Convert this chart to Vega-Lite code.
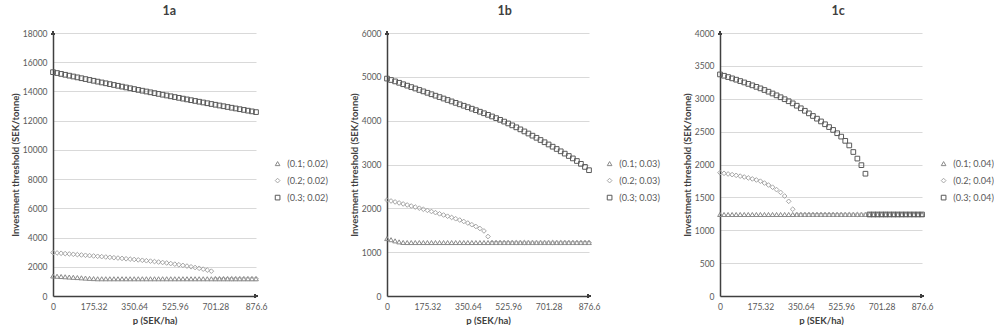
{
"$schema":"https://vega.github.io/schema/vega-lite/v6.json",
"background":"white",
"padding":{"left":10,"top":4,"right":0,"bottom":0},
"spacing":131,
"bounds":"flush",
"config":{
 "font":"Lato",
 "view":{"stroke":null},
 "axis":{"labelFont":"Lato","labelFontSize":8.5,"labelColor":"#595959","titleFont":"Lato","titleFontSize":9.5,"titleColor":"#404040","titleFontWeight":"bold","domainColor":"#404040","domainWidth":1.5,"ticks":false,"gridColor":"#d9d9d9","gridWidth":1.2,"labelOverlap":false,"tickCount":30},
 "axisX":{"grid":false,"labelPadding":6,"labelFlush":false,"titlePadding":5,"format":".2~f"},
 "axisY":{"labelPadding":6,"titlePadding":2,"format":"d"},
 "legend":{"orient":"none","labelFont":"Lato","labelFontSize":9.2,"labelColor":"#595959","symbolStrokeWidth":1,"symbolSize":22,"rowPadding":7,"labelOffset":5,"title":null},
 "title":{"font":"Lato","fontSize":12.5,"fontWeight":"bold","color":"#404040","offset":12,"anchor":"middle","frame":"bounds"},
 "point":{"filled":false,"opacity":1,"strokeWidth":1,"size":22}
},
"resolve":{"scale":{"shape":"independent","color":"independent","y":"independent","x":"independent"},"legend":{"shape":"independent","color":"independent"}},
"datasets":{
"a":[
{"p":0,"s":"(0.1; 0.02)","v":1370},{"p":17.532,"s":"(0.1; 0.02)","v":1352},{"p":35.064,"s":"(0.1; 0.02)","v":1334},{"p":52.596,"s":"(0.1; 0.02)","v":1316},{"p":70.128,"s":"(0.1; 0.02)","v":1298},{"p":87.66,"s":"(0.1; 0.02)","v":1280},{"p":105.192,"s":"(0.1; 0.02)","v":1262},{"p":122.724,"s":"(0.1; 0.02)","v":1244},{"p":140.256,"s":"(0.1; 0.02)","v":1226},{"p":157.788,"s":"(0.1; 0.02)","v":1208},{"p":175.32,"s":"(0.1; 0.02)","v":1192},{"p":192.852,"s":"(0.1; 0.02)","v":1180},{"p":210.384,"s":"(0.1; 0.02)","v":1180},{"p":227.916,"s":"(0.1; 0.02)","v":1180},{"p":245.448,"s":"(0.1; 0.02)","v":1180},{"p":262.98,"s":"(0.1; 0.02)","v":1180},{"p":280.512,"s":"(0.1; 0.02)","v":1180},{"p":298.044,"s":"(0.1; 0.02)","v":1180},{"p":315.576,"s":"(0.1; 0.02)","v":1180},{"p":333.108,"s":"(0.1; 0.02)","v":1180},{"p":350.64,"s":"(0.1; 0.02)","v":1180},{"p":368.172,"s":"(0.1; 0.02)","v":1180},{"p":385.704,"s":"(0.1; 0.02)","v":1180},{"p":403.236,"s":"(0.1; 0.02)","v":1180},{"p":420.768,"s":"(0.1; 0.02)","v":1180},{"p":438.3,"s":"(0.1; 0.02)","v":1180},{"p":455.832,"s":"(0.1; 0.02)","v":1180},{"p":473.364,"s":"(0.1; 0.02)","v":1180},{"p":490.896,"s":"(0.1; 0.02)","v":1180},{"p":508.428,"s":"(0.1; 0.02)","v":1180},{"p":525.96,"s":"(0.1; 0.02)","v":1180},{"p":543.492,"s":"(0.1; 0.02)","v":1180},{"p":561.024,"s":"(0.1; 0.02)","v":1180},{"p":578.556,"s":"(0.1; 0.02)","v":1180},{"p":596.088,"s":"(0.1; 0.02)","v":1180},{"p":613.62,"s":"(0.1; 0.02)","v":1180},{"p":631.152,"s":"(0.1; 0.02)","v":1180},{"p":648.684,"s":"(0.1; 0.02)","v":1180},{"p":666.216,"s":"(0.1; 0.02)","v":1180},{"p":683.748,"s":"(0.1; 0.02)","v":1180},{"p":701.28,"s":"(0.1; 0.02)","v":1180},{"p":718.812,"s":"(0.1; 0.02)","v":1180},{"p":736.344,"s":"(0.1; 0.02)","v":1180},{"p":753.876,"s":"(0.1; 0.02)","v":1180},{"p":771.408,"s":"(0.1; 0.02)","v":1180},{"p":788.94,"s":"(0.1; 0.02)","v":1180},{"p":806.472,"s":"(0.1; 0.02)","v":1180},{"p":824.004,"s":"(0.1; 0.02)","v":1180},{"p":841.536,"s":"(0.1; 0.02)","v":1180},{"p":859.068,"s":"(0.1; 0.02)","v":1180},{"p":876.6,"s":"(0.1; 0.02)","v":1180},
{"p":0,"s":"(0.2; 0.02)","v":2970},{"p":17.532,"s":"(0.2; 0.02)","v":2947},{"p":35.064,"s":"(0.2; 0.02)","v":2924},{"p":52.596,"s":"(0.2; 0.02)","v":2901},{"p":70.128,"s":"(0.2; 0.02)","v":2878},{"p":87.66,"s":"(0.2; 0.02)","v":2855},{"p":105.192,"s":"(0.2; 0.02)","v":2832},{"p":122.724,"s":"(0.2; 0.02)","v":2809},{"p":140.256,"s":"(0.2; 0.02)","v":2786},{"p":157.788,"s":"(0.2; 0.02)","v":2763},{"p":175.32,"s":"(0.2; 0.02)","v":2740},{"p":192.852,"s":"(0.2; 0.02)","v":2717},{"p":210.384,"s":"(0.2; 0.02)","v":2694},{"p":227.916,"s":"(0.2; 0.02)","v":2670},{"p":245.448,"s":"(0.2; 0.02)","v":2646},{"p":262.98,"s":"(0.2; 0.02)","v":2622},{"p":280.512,"s":"(0.2; 0.02)","v":2598},{"p":298.044,"s":"(0.2; 0.02)","v":2573},{"p":315.576,"s":"(0.2; 0.02)","v":2548},{"p":333.108,"s":"(0.2; 0.02)","v":2524},{"p":350.64,"s":"(0.2; 0.02)","v":2500},{"p":368.172,"s":"(0.2; 0.02)","v":2472},{"p":385.704,"s":"(0.2; 0.02)","v":2444},{"p":403.236,"s":"(0.2; 0.02)","v":2415},{"p":420.768,"s":"(0.2; 0.02)","v":2386},{"p":438.3,"s":"(0.2; 0.02)","v":2356},{"p":455.832,"s":"(0.2; 0.02)","v":2325},{"p":473.364,"s":"(0.2; 0.02)","v":2293},{"p":490.896,"s":"(0.2; 0.02)","v":2260},{"p":508.428,"s":"(0.2; 0.02)","v":2221},{"p":525.96,"s":"(0.2; 0.02)","v":2180},{"p":543.492,"s":"(0.2; 0.02)","v":2138},{"p":561.024,"s":"(0.2; 0.02)","v":2094},{"p":578.556,"s":"(0.2; 0.02)","v":2048},{"p":596.088,"s":"(0.2; 0.02)","v":2000},{"p":613.62,"s":"(0.2; 0.02)","v":1950},{"p":631.152,"s":"(0.2; 0.02)","v":1896},{"p":648.684,"s":"(0.2; 0.02)","v":1838},{"p":666.216,"s":"(0.2; 0.02)","v":1774},{"p":683.748,"s":"(0.2; 0.02)","v":1700},{"p":701.28,"s":"(0.2; 0.02)","v":1180},{"p":718.812,"s":"(0.2; 0.02)","v":1180},{"p":736.344,"s":"(0.2; 0.02)","v":1180},{"p":753.876,"s":"(0.2; 0.02)","v":1180},{"p":771.408,"s":"(0.2; 0.02)","v":1180},{"p":788.94,"s":"(0.2; 0.02)","v":1180},{"p":806.472,"s":"(0.2; 0.02)","v":1180},{"p":824.004,"s":"(0.2; 0.02)","v":1180},{"p":841.536,"s":"(0.2; 0.02)","v":1180},{"p":859.068,"s":"(0.2; 0.02)","v":1180},{"p":876.6,"s":"(0.2; 0.02)","v":1180},
{"p":0,"s":"(0.3; 0.02)","v":15320},{"p":17.532,"s":"(0.3; 0.02)","v":15260},{"p":35.064,"s":"(0.3; 0.02)","v":15200},{"p":52.596,"s":"(0.3; 0.02)","v":15141},{"p":70.128,"s":"(0.3; 0.02)","v":15081},{"p":87.66,"s":"(0.3; 0.02)","v":15022},{"p":105.192,"s":"(0.3; 0.02)","v":14963},{"p":122.724,"s":"(0.3; 0.02)","v":14905},{"p":140.256,"s":"(0.3; 0.02)","v":14846},{"p":157.788,"s":"(0.3; 0.02)","v":14788},{"p":175.32,"s":"(0.3; 0.02)","v":14730},{"p":192.852,"s":"(0.3; 0.02)","v":14672},{"p":210.384,"s":"(0.3; 0.02)","v":14615},{"p":227.916,"s":"(0.3; 0.02)","v":14557},{"p":245.448,"s":"(0.3; 0.02)","v":14500},{"p":262.98,"s":"(0.3; 0.02)","v":14443},{"p":280.512,"s":"(0.3; 0.02)","v":14387},{"p":298.044,"s":"(0.3; 0.02)","v":14330},{"p":315.576,"s":"(0.3; 0.02)","v":14274},{"p":333.108,"s":"(0.3; 0.02)","v":14218},{"p":350.64,"s":"(0.3; 0.02)","v":14162},{"p":368.172,"s":"(0.3; 0.02)","v":14106},{"p":385.704,"s":"(0.3; 0.02)","v":14051},{"p":403.236,"s":"(0.3; 0.02)","v":13996},{"p":420.768,"s":"(0.3; 0.02)","v":13941},{"p":438.3,"s":"(0.3; 0.02)","v":13886},{"p":455.832,"s":"(0.3; 0.02)","v":13831},{"p":473.364,"s":"(0.3; 0.02)","v":13777},{"p":490.896,"s":"(0.3; 0.02)","v":13723},{"p":508.428,"s":"(0.3; 0.02)","v":13669},{"p":525.96,"s":"(0.3; 0.02)","v":13615},{"p":543.492,"s":"(0.3; 0.02)","v":13562},{"p":561.024,"s":"(0.3; 0.02)","v":13508},{"p":578.556,"s":"(0.3; 0.02)","v":13455},{"p":596.088,"s":"(0.3; 0.02)","v":13402},{"p":613.62,"s":"(0.3; 0.02)","v":13350},{"p":631.152,"s":"(0.3; 0.02)","v":13297},{"p":648.684,"s":"(0.3; 0.02)","v":13245},{"p":666.216,"s":"(0.3; 0.02)","v":13193},{"p":683.748,"s":"(0.3; 0.02)","v":13141},{"p":701.28,"s":"(0.3; 0.02)","v":13090},{"p":718.812,"s":"(0.3; 0.02)","v":13038},{"p":736.344,"s":"(0.3; 0.02)","v":12987},{"p":753.876,"s":"(0.3; 0.02)","v":12936},{"p":771.408,"s":"(0.3; 0.02)","v":12886},{"p":788.94,"s":"(0.3; 0.02)","v":12835},{"p":806.472,"s":"(0.3; 0.02)","v":12785},{"p":824.004,"s":"(0.3; 0.02)","v":12735},{"p":841.536,"s":"(0.3; 0.02)","v":12685},{"p":859.068,"s":"(0.3; 0.02)","v":12635},{"p":876.6,"s":"(0.3; 0.02)","v":12586}
],
"b":[
{"p":0,"s":"(0.1; 0.03)","v":1310},{"p":17.532,"s":"(0.1; 0.03)","v":1285},{"p":35.064,"s":"(0.1; 0.03)","v":1258},{"p":52.596,"s":"(0.1; 0.03)","v":1235},{"p":70.128,"s":"(0.1; 0.03)","v":1222},{"p":87.66,"s":"(0.1; 0.03)","v":1220},{"p":105.192,"s":"(0.1; 0.03)","v":1220},{"p":122.724,"s":"(0.1; 0.03)","v":1220},{"p":140.256,"s":"(0.1; 0.03)","v":1220},{"p":157.788,"s":"(0.1; 0.03)","v":1220},{"p":175.32,"s":"(0.1; 0.03)","v":1220},{"p":192.852,"s":"(0.1; 0.03)","v":1220},{"p":210.384,"s":"(0.1; 0.03)","v":1220},{"p":227.916,"s":"(0.1; 0.03)","v":1220},{"p":245.448,"s":"(0.1; 0.03)","v":1220},{"p":262.98,"s":"(0.1; 0.03)","v":1220},{"p":280.512,"s":"(0.1; 0.03)","v":1220},{"p":298.044,"s":"(0.1; 0.03)","v":1220},{"p":315.576,"s":"(0.1; 0.03)","v":1220},{"p":333.108,"s":"(0.1; 0.03)","v":1220},{"p":350.64,"s":"(0.1; 0.03)","v":1220},{"p":368.172,"s":"(0.1; 0.03)","v":1220},{"p":385.704,"s":"(0.1; 0.03)","v":1220},{"p":403.236,"s":"(0.1; 0.03)","v":1220},{"p":420.768,"s":"(0.1; 0.03)","v":1220},{"p":438.3,"s":"(0.1; 0.03)","v":1220},{"p":455.832,"s":"(0.1; 0.03)","v":1220},{"p":473.364,"s":"(0.1; 0.03)","v":1220},{"p":490.896,"s":"(0.1; 0.03)","v":1220},{"p":508.428,"s":"(0.1; 0.03)","v":1220},{"p":525.96,"s":"(0.1; 0.03)","v":1220},{"p":543.492,"s":"(0.1; 0.03)","v":1220},{"p":561.024,"s":"(0.1; 0.03)","v":1220},{"p":578.556,"s":"(0.1; 0.03)","v":1220},{"p":596.088,"s":"(0.1; 0.03)","v":1220},{"p":613.62,"s":"(0.1; 0.03)","v":1220},{"p":631.152,"s":"(0.1; 0.03)","v":1220},{"p":648.684,"s":"(0.1; 0.03)","v":1220},{"p":666.216,"s":"(0.1; 0.03)","v":1220},{"p":683.748,"s":"(0.1; 0.03)","v":1220},{"p":701.28,"s":"(0.1; 0.03)","v":1220},{"p":718.812,"s":"(0.1; 0.03)","v":1220},{"p":736.344,"s":"(0.1; 0.03)","v":1220},{"p":753.876,"s":"(0.1; 0.03)","v":1220},{"p":771.408,"s":"(0.1; 0.03)","v":1220},{"p":788.94,"s":"(0.1; 0.03)","v":1220},{"p":806.472,"s":"(0.1; 0.03)","v":1220},{"p":824.004,"s":"(0.1; 0.03)","v":1220},{"p":841.536,"s":"(0.1; 0.03)","v":1220},{"p":859.068,"s":"(0.1; 0.03)","v":1220},{"p":876.6,"s":"(0.1; 0.03)","v":1220},
{"p":0,"s":"(0.2; 0.03)","v":2190},{"p":17.532,"s":"(0.2; 0.03)","v":2168},{"p":35.064,"s":"(0.2; 0.03)","v":2146},{"p":52.596,"s":"(0.2; 0.03)","v":2123},{"p":70.128,"s":"(0.2; 0.03)","v":2100},{"p":87.66,"s":"(0.2; 0.03)","v":2077},{"p":105.192,"s":"(0.2; 0.03)","v":2053},{"p":122.724,"s":"(0.2; 0.03)","v":2029},{"p":140.256,"s":"(0.2; 0.03)","v":2004},{"p":157.788,"s":"(0.2; 0.03)","v":1979},{"p":175.32,"s":"(0.2; 0.03)","v":1954},{"p":192.852,"s":"(0.2; 0.03)","v":1928},{"p":210.384,"s":"(0.2; 0.03)","v":1902},{"p":227.916,"s":"(0.2; 0.03)","v":1875},{"p":245.448,"s":"(0.2; 0.03)","v":1848},{"p":262.98,"s":"(0.2; 0.03)","v":1820},{"p":280.512,"s":"(0.2; 0.03)","v":1792},{"p":298.044,"s":"(0.2; 0.03)","v":1763},{"p":315.576,"s":"(0.2; 0.03)","v":1733},{"p":333.108,"s":"(0.2; 0.03)","v":1700},{"p":350.64,"s":"(0.2; 0.03)","v":1665},{"p":368.172,"s":"(0.2; 0.03)","v":1627},{"p":385.704,"s":"(0.2; 0.03)","v":1586},{"p":403.236,"s":"(0.2; 0.03)","v":1540},{"p":420.768,"s":"(0.2; 0.03)","v":1484},{"p":438.3,"s":"(0.2; 0.03)","v":1357},{"p":455.832,"s":"(0.2; 0.03)","v":1220},{"p":473.364,"s":"(0.2; 0.03)","v":1220},{"p":490.896,"s":"(0.2; 0.03)","v":1220},{"p":508.428,"s":"(0.2; 0.03)","v":1220},{"p":525.96,"s":"(0.2; 0.03)","v":1220},{"p":543.492,"s":"(0.2; 0.03)","v":1220},{"p":561.024,"s":"(0.2; 0.03)","v":1220},{"p":578.556,"s":"(0.2; 0.03)","v":1220},{"p":596.088,"s":"(0.2; 0.03)","v":1220},{"p":613.62,"s":"(0.2; 0.03)","v":1220},{"p":631.152,"s":"(0.2; 0.03)","v":1220},{"p":648.684,"s":"(0.2; 0.03)","v":1220},{"p":666.216,"s":"(0.2; 0.03)","v":1220},{"p":683.748,"s":"(0.2; 0.03)","v":1220},{"p":701.28,"s":"(0.2; 0.03)","v":1220},{"p":718.812,"s":"(0.2; 0.03)","v":1220},{"p":736.344,"s":"(0.2; 0.03)","v":1220},{"p":753.876,"s":"(0.2; 0.03)","v":1220},{"p":771.408,"s":"(0.2; 0.03)","v":1220},{"p":788.94,"s":"(0.2; 0.03)","v":1220},{"p":806.472,"s":"(0.2; 0.03)","v":1220},{"p":824.004,"s":"(0.2; 0.03)","v":1220},{"p":841.536,"s":"(0.2; 0.03)","v":1220},{"p":859.068,"s":"(0.2; 0.03)","v":1220},{"p":876.6,"s":"(0.2; 0.03)","v":1220},
{"p":0,"s":"(0.3; 0.03)","v":4960},{"p":17.532,"s":"(0.3; 0.03)","v":4928},{"p":35.064,"s":"(0.3; 0.03)","v":4896},{"p":52.596,"s":"(0.3; 0.03)","v":4864},{"p":70.128,"s":"(0.3; 0.03)","v":4831},{"p":87.66,"s":"(0.3; 0.03)","v":4799},{"p":105.192,"s":"(0.3; 0.03)","v":4766},{"p":122.724,"s":"(0.3; 0.03)","v":4734},{"p":140.256,"s":"(0.3; 0.03)","v":4701},{"p":157.788,"s":"(0.3; 0.03)","v":4668},{"p":175.32,"s":"(0.3; 0.03)","v":4636},{"p":192.852,"s":"(0.3; 0.03)","v":4603},{"p":210.384,"s":"(0.3; 0.03)","v":4570},{"p":227.916,"s":"(0.3; 0.03)","v":4538},{"p":245.448,"s":"(0.3; 0.03)","v":4505},{"p":262.98,"s":"(0.3; 0.03)","v":4472},{"p":280.512,"s":"(0.3; 0.03)","v":4439},{"p":298.044,"s":"(0.3; 0.03)","v":4406},{"p":315.576,"s":"(0.3; 0.03)","v":4373},{"p":333.108,"s":"(0.3; 0.03)","v":4340},{"p":350.64,"s":"(0.3; 0.03)","v":4307},{"p":368.172,"s":"(0.3; 0.03)","v":4273},{"p":385.704,"s":"(0.3; 0.03)","v":4239},{"p":403.236,"s":"(0.3; 0.03)","v":4204},{"p":420.768,"s":"(0.3; 0.03)","v":4169},{"p":438.3,"s":"(0.3; 0.03)","v":4133},{"p":455.832,"s":"(0.3; 0.03)","v":4096},{"p":473.364,"s":"(0.3; 0.03)","v":4058},{"p":490.896,"s":"(0.3; 0.03)","v":4019},{"p":508.428,"s":"(0.3; 0.03)","v":3979},{"p":525.96,"s":"(0.3; 0.03)","v":3937},{"p":543.492,"s":"(0.3; 0.03)","v":3893},{"p":561.024,"s":"(0.3; 0.03)","v":3848},{"p":578.556,"s":"(0.3; 0.03)","v":3802},{"p":596.088,"s":"(0.3; 0.03)","v":3755},{"p":613.62,"s":"(0.3; 0.03)","v":3707},{"p":631.152,"s":"(0.3; 0.03)","v":3658},{"p":648.684,"s":"(0.3; 0.03)","v":3609},{"p":666.216,"s":"(0.3; 0.03)","v":3559},{"p":683.748,"s":"(0.3; 0.03)","v":3508},{"p":701.28,"s":"(0.3; 0.03)","v":3457},{"p":718.812,"s":"(0.3; 0.03)","v":3406},{"p":736.344,"s":"(0.3; 0.03)","v":3354},{"p":753.876,"s":"(0.3; 0.03)","v":3301},{"p":771.408,"s":"(0.3; 0.03)","v":3248},{"p":788.94,"s":"(0.3; 0.03)","v":3194},{"p":806.472,"s":"(0.3; 0.03)","v":3139},{"p":824.004,"s":"(0.3; 0.03)","v":3080},{"p":841.536,"s":"(0.3; 0.03)","v":3015},{"p":859.068,"s":"(0.3; 0.03)","v":2945},{"p":876.6,"s":"(0.3; 0.03)","v":2870}
],
"c":[
{"p":0,"s":"(0.1; 0.04)","v":1240},{"p":17.532,"s":"(0.1; 0.04)","v":1240},{"p":35.064,"s":"(0.1; 0.04)","v":1240},{"p":52.596,"s":"(0.1; 0.04)","v":1240},{"p":70.128,"s":"(0.1; 0.04)","v":1240},{"p":87.66,"s":"(0.1; 0.04)","v":1240},{"p":105.192,"s":"(0.1; 0.04)","v":1240},{"p":122.724,"s":"(0.1; 0.04)","v":1240},{"p":140.256,"s":"(0.1; 0.04)","v":1240},{"p":157.788,"s":"(0.1; 0.04)","v":1240},{"p":175.32,"s":"(0.1; 0.04)","v":1240},{"p":192.852,"s":"(0.1; 0.04)","v":1240},{"p":210.384,"s":"(0.1; 0.04)","v":1240},{"p":227.916,"s":"(0.1; 0.04)","v":1240},{"p":245.448,"s":"(0.1; 0.04)","v":1240},{"p":262.98,"s":"(0.1; 0.04)","v":1240},{"p":280.512,"s":"(0.1; 0.04)","v":1240},{"p":298.044,"s":"(0.1; 0.04)","v":1240},{"p":315.576,"s":"(0.1; 0.04)","v":1240},{"p":333.108,"s":"(0.1; 0.04)","v":1240},{"p":350.64,"s":"(0.1; 0.04)","v":1240},{"p":368.172,"s":"(0.1; 0.04)","v":1240},{"p":385.704,"s":"(0.1; 0.04)","v":1240},{"p":403.236,"s":"(0.1; 0.04)","v":1240},{"p":420.768,"s":"(0.1; 0.04)","v":1240},{"p":438.3,"s":"(0.1; 0.04)","v":1240},{"p":455.832,"s":"(0.1; 0.04)","v":1240},{"p":473.364,"s":"(0.1; 0.04)","v":1240},{"p":490.896,"s":"(0.1; 0.04)","v":1240},{"p":508.428,"s":"(0.1; 0.04)","v":1240},{"p":525.96,"s":"(0.1; 0.04)","v":1240},{"p":543.492,"s":"(0.1; 0.04)","v":1240},{"p":561.024,"s":"(0.1; 0.04)","v":1240},{"p":578.556,"s":"(0.1; 0.04)","v":1240},{"p":596.088,"s":"(0.1; 0.04)","v":1240},{"p":613.62,"s":"(0.1; 0.04)","v":1240},{"p":631.152,"s":"(0.1; 0.04)","v":1240},{"p":648.684,"s":"(0.1; 0.04)","v":1240},{"p":666.216,"s":"(0.1; 0.04)","v":1240},{"p":683.748,"s":"(0.1; 0.04)","v":1240},{"p":701.28,"s":"(0.1; 0.04)","v":1240},{"p":718.812,"s":"(0.1; 0.04)","v":1240},{"p":736.344,"s":"(0.1; 0.04)","v":1240},{"p":753.876,"s":"(0.1; 0.04)","v":1240},{"p":771.408,"s":"(0.1; 0.04)","v":1240},{"p":788.94,"s":"(0.1; 0.04)","v":1240},{"p":806.472,"s":"(0.1; 0.04)","v":1240},{"p":824.004,"s":"(0.1; 0.04)","v":1240},{"p":841.536,"s":"(0.1; 0.04)","v":1240},{"p":859.068,"s":"(0.1; 0.04)","v":1240},{"p":876.6,"s":"(0.1; 0.04)","v":1240},
{"p":0,"s":"(0.2; 0.04)","v":1875},{"p":17.532,"s":"(0.2; 0.04)","v":1866},{"p":35.064,"s":"(0.2; 0.04)","v":1856},{"p":52.596,"s":"(0.2; 0.04)","v":1846},{"p":70.128,"s":"(0.2; 0.04)","v":1835},{"p":87.66,"s":"(0.2; 0.04)","v":1823},{"p":105.192,"s":"(0.2; 0.04)","v":1810},{"p":122.724,"s":"(0.2; 0.04)","v":1796},{"p":140.256,"s":"(0.2; 0.04)","v":1781},{"p":157.788,"s":"(0.2; 0.04)","v":1765},{"p":175.32,"s":"(0.2; 0.04)","v":1746},{"p":192.852,"s":"(0.2; 0.04)","v":1718},{"p":210.384,"s":"(0.2; 0.04)","v":1688},{"p":227.916,"s":"(0.2; 0.04)","v":1655},{"p":245.448,"s":"(0.2; 0.04)","v":1618},{"p":262.98,"s":"(0.2; 0.04)","v":1576},{"p":280.512,"s":"(0.2; 0.04)","v":1520},{"p":298.044,"s":"(0.2; 0.04)","v":1440},{"p":315.576,"s":"(0.2; 0.04)","v":1320},{"p":333.108,"s":"(0.2; 0.04)","v":1240},{"p":350.64,"s":"(0.2; 0.04)","v":1240},{"p":368.172,"s":"(0.2; 0.04)","v":1240},{"p":385.704,"s":"(0.2; 0.04)","v":1240},{"p":403.236,"s":"(0.2; 0.04)","v":1240},{"p":420.768,"s":"(0.2; 0.04)","v":1240},{"p":438.3,"s":"(0.2; 0.04)","v":1240},{"p":455.832,"s":"(0.2; 0.04)","v":1240},{"p":473.364,"s":"(0.2; 0.04)","v":1240},{"p":490.896,"s":"(0.2; 0.04)","v":1240},{"p":508.428,"s":"(0.2; 0.04)","v":1240},{"p":525.96,"s":"(0.2; 0.04)","v":1240},{"p":543.492,"s":"(0.2; 0.04)","v":1240},{"p":561.024,"s":"(0.2; 0.04)","v":1240},{"p":578.556,"s":"(0.2; 0.04)","v":1240},{"p":596.088,"s":"(0.2; 0.04)","v":1240},{"p":613.62,"s":"(0.2; 0.04)","v":1240},{"p":631.152,"s":"(0.2; 0.04)","v":1240},{"p":648.684,"s":"(0.2; 0.04)","v":1240},{"p":666.216,"s":"(0.2; 0.04)","v":1240},{"p":683.748,"s":"(0.2; 0.04)","v":1240},{"p":701.28,"s":"(0.2; 0.04)","v":1240},{"p":718.812,"s":"(0.2; 0.04)","v":1240},{"p":736.344,"s":"(0.2; 0.04)","v":1240},{"p":753.876,"s":"(0.2; 0.04)","v":1240},{"p":771.408,"s":"(0.2; 0.04)","v":1240},{"p":788.94,"s":"(0.2; 0.04)","v":1240},{"p":806.472,"s":"(0.2; 0.04)","v":1240},{"p":824.004,"s":"(0.2; 0.04)","v":1240},{"p":841.536,"s":"(0.2; 0.04)","v":1240},{"p":859.068,"s":"(0.2; 0.04)","v":1240},{"p":876.6,"s":"(0.2; 0.04)","v":1240},
{"p":0,"s":"(0.3; 0.04)","v":3370},{"p":17.532,"s":"(0.3; 0.04)","v":3350},{"p":35.064,"s":"(0.3; 0.04)","v":3330},{"p":52.596,"s":"(0.3; 0.04)","v":3310},{"p":70.128,"s":"(0.3; 0.04)","v":3290},{"p":87.66,"s":"(0.3; 0.04)","v":3269},{"p":105.192,"s":"(0.3; 0.04)","v":3248},{"p":122.724,"s":"(0.3; 0.04)","v":3226},{"p":140.256,"s":"(0.3; 0.04)","v":3204},{"p":157.788,"s":"(0.3; 0.04)","v":3181},{"p":175.32,"s":"(0.3; 0.04)","v":3158},{"p":192.852,"s":"(0.3; 0.04)","v":3133},{"p":210.384,"s":"(0.3; 0.04)","v":3107},{"p":227.916,"s":"(0.3; 0.04)","v":3080},{"p":245.448,"s":"(0.3; 0.04)","v":3052},{"p":262.98,"s":"(0.3; 0.04)","v":3023},{"p":280.512,"s":"(0.3; 0.04)","v":2993},{"p":298.044,"s":"(0.3; 0.04)","v":2962},{"p":315.576,"s":"(0.3; 0.04)","v":2930},{"p":333.108,"s":"(0.3; 0.04)","v":2894},{"p":350.64,"s":"(0.3; 0.04)","v":2855},{"p":368.172,"s":"(0.3; 0.04)","v":2817},{"p":385.704,"s":"(0.3; 0.04)","v":2778},{"p":403.236,"s":"(0.3; 0.04)","v":2738},{"p":420.768,"s":"(0.3; 0.04)","v":2697},{"p":438.3,"s":"(0.3; 0.04)","v":2655},{"p":455.832,"s":"(0.3; 0.04)","v":2612},{"p":473.364,"s":"(0.3; 0.04)","v":2569},{"p":490.896,"s":"(0.3; 0.04)","v":2526},{"p":508.428,"s":"(0.3; 0.04)","v":2476},{"p":525.96,"s":"(0.3; 0.04)","v":2424},{"p":543.492,"s":"(0.3; 0.04)","v":2360},{"p":561.024,"s":"(0.3; 0.04)","v":2290},{"p":578.556,"s":"(0.3; 0.04)","v":2190},{"p":596.088,"s":"(0.3; 0.04)","v":2090},{"p":613.62,"s":"(0.3; 0.04)","v":1990},{"p":631.152,"s":"(0.3; 0.04)","v":1860},{"p":648.684,"s":"(0.3; 0.04)","v":1240},{"p":666.216,"s":"(0.3; 0.04)","v":1240},{"p":683.748,"s":"(0.3; 0.04)","v":1240},{"p":701.28,"s":"(0.3; 0.04)","v":1240},{"p":718.812,"s":"(0.3; 0.04)","v":1240},{"p":736.344,"s":"(0.3; 0.04)","v":1240},{"p":753.876,"s":"(0.3; 0.04)","v":1240},{"p":771.408,"s":"(0.3; 0.04)","v":1240},{"p":788.94,"s":"(0.3; 0.04)","v":1240},{"p":806.472,"s":"(0.3; 0.04)","v":1240},{"p":824.004,"s":"(0.3; 0.04)","v":1240},{"p":841.536,"s":"(0.3; 0.04)","v":1240},{"p":859.068,"s":"(0.3; 0.04)","v":1240},{"p":876.6,"s":"(0.3; 0.04)","v":1240}
]
},
"hconcat":[
{"title":"1a","width":203,"height":263,"data":{"name":"a"},
 "layer":[
  {"mark":{"type":"point"},
   "encoding":{
    "x":{"field":"p","type":"quantitative","title":"p (SEK/ha)","scale":{"domain":[0,876.6],"nice":false},"axis":{"values":[0,175.32,350.64,525.96,701.28,876.6],"tickCount":30}},
    "y":{"field":"v","type":"quantitative","title":"Investment threshold (SEK/tonne)","scale":{"domain":[0,18000],"nice":false},"axis":{"values":[0,2000,4000,6000,8000,10000,12000,14000,16000,18000],"tickCount":30}},
    "shape":{"field":"s","type":"nominal","scale":{"domain":["(0.1; 0.02)","(0.2; 0.02)","(0.3; 0.02)"],"range":["triangle-up","diamond","square"]},"legend":{"legendX":220,"legendY":126}},
    "color":{"field":"s","type":"nominal","scale":{"domain":["(0.1; 0.02)","(0.2; 0.02)","(0.3; 0.02)"],"range":["#8a8a8a","#a6a6a6","#5a5a5a"]},"legend":{"legendX":220,"legendY":126}}
   }},
  {"mark":{"type":"point","shape":"triangle-up","filled":true,"size":14,"color":"#404040"},"encoding":{"x":{"datum":0},"y":{"datum":18000}}},
  {"mark":{"type":"point","shape":"triangle-right","filled":true,"size":14,"color":"#404040"},"encoding":{"x":{"datum":876.6},"y":{"datum":0}}}
 ]},
{"title":"1b","width":202,"height":263,"data":{"name":"b"},
 "layer":[
  {"mark":{"type":"point"},
   "encoding":{
    "x":{"field":"p","type":"quantitative","title":"p (SEK/ha)","scale":{"domain":[0,876.6],"nice":false},"axis":{"values":[0,175.32,350.64,525.96,701.28,876.6],"tickCount":30}},
    "y":{"field":"v","type":"quantitative","title":"Investment threshold (SEK/tonne)","scale":{"domain":[0,6000],"nice":false},"axis":{"values":[0,1000,2000,3000,4000,5000,6000],"tickCount":30}},
    "shape":{"field":"s","type":"nominal","scale":{"domain":["(0.1; 0.03)","(0.2; 0.03)","(0.3; 0.03)"],"range":["triangle-up","diamond","square"]},"legend":{"legendX":218,"legendY":126}},
    "color":{"field":"s","type":"nominal","scale":{"domain":["(0.1; 0.03)","(0.2; 0.03)","(0.3; 0.03)"],"range":["#8a8a8a","#a6a6a6","#5a5a5a"]},"legend":{"legendX":218,"legendY":126}}
   }},
  {"mark":{"type":"point","shape":"triangle-up","filled":true,"size":14,"color":"#404040"},"encoding":{"x":{"datum":0},"y":{"datum":6000}}},
  {"mark":{"type":"point","shape":"triangle-right","filled":true,"size":14,"color":"#404040"},"encoding":{"x":{"datum":876.6},"y":{"datum":0}}}
 ]},
{"title":"1c","width":202,"height":263,"data":{"name":"c"},
 "layer":[
  {"mark":{"type":"point"},
   "encoding":{
    "x":{"field":"p","type":"quantitative","title":"p (SEK/ha)","scale":{"domain":[0,876.6],"nice":false},"axis":{"values":[0,175.32,350.64,525.96,701.28,876.6],"tickCount":30}},
    "y":{"field":"v","type":"quantitative","title":"Investment threshold (SEK/tonne)","scale":{"domain":[0,4000],"nice":false},"axis":{"values":[0,500,1000,1500,2000,2500,3000,3500,4000],"tickCount":30}},
    "shape":{"field":"s","type":"nominal","scale":{"domain":["(0.1; 0.04)","(0.2; 0.04)","(0.3; 0.04)"],"range":["triangle-up","diamond","square"]},"legend":{"legendX":219,"legendY":126}},
    "color":{"field":"s","type":"nominal","scale":{"domain":["(0.1; 0.04)","(0.2; 0.04)","(0.3; 0.04)"],"range":["#8a8a8a","#a6a6a6","#5a5a5a"]},"legend":{"legendX":219,"legendY":126}}
   }},
  {"mark":{"type":"point","shape":"triangle-up","filled":true,"size":14,"color":"#404040"},"encoding":{"x":{"datum":0},"y":{"datum":4000}}},
  {"mark":{"type":"point","shape":"triangle-right","filled":true,"size":14,"color":"#404040"},"encoding":{"x":{"datum":876.6},"y":{"datum":0}}}
 ]}
]
}
